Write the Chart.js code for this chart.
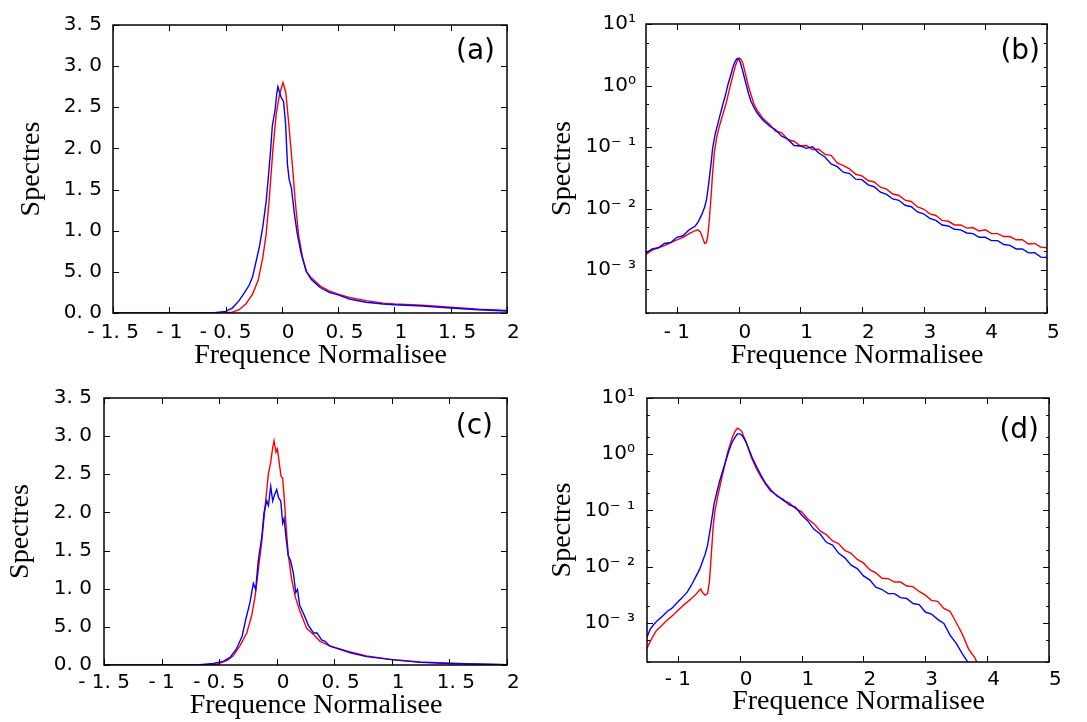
<!DOCTYPE html>
<html>
<head>
<meta charset="utf-8">
<title>Spectres</title>
<script src="https://cdn.jsdelivr.net/npm/chart.js@4.4.1/dist/chart.umd.min.js"></script>
<style>
  body { margin: 0; background: #fff; }
  #wrap { position: relative; width: 1087px; height: 722px; }
  canvas { position: absolute; }
  #pa { left: 0; top: 0; }
  #pb { left: 540px; top: 0; }
  #pc { left: 0; top: 374px; }
  #pd { left: 540px; top: 374px; }
</style>
</head>
<body>
<div id="wrap">
  <canvas id="pa" width="540" height="374"></canvas>
  <canvas id="pb" width="547" height="374"></canvas>
  <canvas id="pc" width="540" height="348"></canvas>
  <canvas id="pd" width="547" height="348"></canvas>
</div>
<script>
// Axis text
const xTitle = "   Frequence Normalisee";
const yTitle = "Spectres";

// Tick values and labels (linear panels)
const linXTicks = [-1.5, -1, -0.5, 0, 0.5, 1, 1.5, 2];
const linXLabels = ["- 1. 5", "- 1", "- 0. 5", "  0", "  0. 5", "  1", "  1. 5", "  2"];
const linYTicks = [0, 0.5, 1, 1.5, 2, 2.5, 3, 3.5];
const linYLabels = ["0. 0", "5. 0", "1. 0", "1. 5", "2. 0", "2. 5", "3. 0", "3. 5"];

// Tick values and labels (log panels)
const logXTicks = [-1, 0, 1, 2, 3, 4, 5];
const logXLabels = ["- 1", "  0", "  1", "  2", "  3", "  4", "  5"];
const logYTicks = [2e-4, 5e-4, 1e-3, 2e-3, 5e-3, 1e-2, 2e-2, 5e-2, 0.1, 0.2, 0.5, 1, 2, 5, 10];
const logYLabels = ["", "", "10⁻ ³", "", "", "10⁻ ²", "", "", "10⁻ ¹", "", "", "10⁰", "", "", "10¹"];

// (a) linear spectra
const aBlueX = [-1.5, -0.8, -0.6, -0.5, -0.44, -0.38, -0.33, -0.29, -0.26, -0.23, -0.2, -0.17, -0.14, -0.12, -0.1, -0.085, -0.06, -0.045, -0.035, -0.02, -0.006, 0.015, 0.033, 0.05, 0.065, 0.085, 0.11, 0.135, 0.17, 0.215, 0.26, 0.3, 0.34, 0.42, 0.5, 0.6, 0.75, 0.9, 1.0, 1.25, 1.5, 1.75, 2.0];
const aBlueY = [0, 0, 0.005, 0.02, 0.06, 0.15, 0.25, 0.34, 0.44, 0.62, 0.80, 1.04, 1.35, 1.65, 1.98, 2.27, 2.47, 2.67, 2.75, 2.68, 2.62, 2.57, 2.30, 1.80, 1.62, 1.52, 1.22, 0.98, 0.73, 0.51, 0.41, 0.36, 0.31, 0.25, 0.22, 0.17, 0.13, 0.11, 0.10, 0.085, 0.06, 0.04, 0.025];
const aRedX = [-1.5, -0.8, -0.5, -0.44, -0.38, -0.32, -0.26, -0.21, -0.17, -0.14, -0.11, -0.08, -0.05, -0.02, 0.01, 0.035, 0.06, 0.09, 0.12, 0.15, 0.185, 0.22, 0.26, 0.3, 0.35, 0.42, 0.5, 0.6, 0.75, 0.9, 1.0, 1.25, 1.5, 1.75, 2.0];
const aRedY = [0, 0, 0.003, 0.01, 0.04, 0.11, 0.23, 0.40, 0.67, 0.95, 1.42, 1.98, 2.42, 2.66, 2.80, 2.68, 2.32, 1.85, 1.34, 0.93, 0.67, 0.50, 0.43, 0.38, 0.32, 0.27, 0.23, 0.19, 0.15, 0.12, 0.11, 0.095, 0.07, 0.045, 0.03];

// (b) log spectra
const bBlueX = [-1.5, -1.4, -1.3, -1.2, -1.1, -1.0, -0.9, -0.8, -0.7, -0.65, -0.6, -0.55, -0.52, -0.5, -0.47, -0.44, -0.42, -0.38, -0.335, -0.3, -0.25, -0.2, -0.17, -0.12, -0.09, -0.06, -0.03, 0.0, 0.03, 0.06, 0.09, 0.12, 0.16, 0.2, 0.25, 0.3, 0.35, 0.4, 0.45,
  0.5, 0.6, 0.7, 0.8, 0.9, 1.0, 1.1, 1.2, 1.3, 1.4, 1.5, 1.6, 1.7, 1.8, 1.9, 2.0, 2.1, 2.2, 2.3, 2.4, 2.5, 2.6, 2.7, 2.8, 2.9, 3.0, 3.1, 3.2, 3.3, 3.4, 3.5, 3.6, 3.7, 3.8, 3.9, 4.0, 4.1, 4.2, 4.3, 4.4, 4.5, 4.6, 4.7, 4.8, 4.9, 5.0];
const bBlueY = [0.0019, 0.0022, 0.0023, 0.0027, 0.0028, 0.0034, 0.0036, 0.0045, 0.0052, 0.0062, 0.0078, 0.0105, 0.0138, 0.019, 0.033, 0.06, 0.095, 0.16, 0.24, 0.33, 0.51, 0.78, 1.05, 1.55, 2.0, 2.4, 2.7, 2.75, 2.35, 1.85, 1.4, 1.07, 0.75, 0.56, 0.44, 0.36, 0.31, 0.27, 0.245,
  0.219, 0.190, 0.150, 0.134, 0.106, 0.104, 0.095, 0.101, 0.080, 0.069, 0.053, 0.048, 0.039, 0.037, 0.030, 0.0295, 0.0242, 0.0226, 0.0184, 0.0170, 0.0143, 0.0136, 0.0113, 0.0107, 0.0088, 0.0082, 0.0069, 0.0064, 0.0054, 0.0052, 0.0046, 0.0045, 0.0040, 0.0039, 0.0034, 0.0034, 0.0030, 0.0030, 0.0026, 0.00252, 0.0022, 0.0022, 0.0019, 0.00192, 0.00162, 0.0016];
const bRedX = [-1.5, -1.4, -1.3, -1.2, -1.1, -1.0, -0.9, -0.8, -0.72, -0.66, -0.62, -0.58, -0.55, -0.52, -0.5, -0.48, -0.46, -0.44, -0.42, -0.39, -0.35, -0.31, -0.25, -0.2, -0.15, -0.1, -0.05, -0.02, 0.01, 0.04, 0.07, 0.1, 0.13, 0.16, 0.2, 0.25, 0.3, 0.35, 0.4, 0.45,
  0.5, 0.6, 0.7, 0.8, 0.9, 1.0, 1.1, 1.2, 1.3, 1.4, 1.5, 1.6, 1.7, 1.8, 1.9, 2.0, 2.1, 2.2, 2.3, 2.4, 2.5, 2.6, 2.7, 2.8, 2.9, 3.0, 3.1, 3.2, 3.3, 3.4, 3.5, 3.6, 3.7, 3.8, 3.9, 4.0, 4.1, 4.2, 4.3, 4.4, 4.5, 4.6, 4.7, 4.8, 4.9, 5.0];
const bRedY = [0.0018, 0.0021, 0.0023, 0.0025, 0.0028, 0.0031, 0.0034, 0.0039, 0.0043, 0.0045, 0.0042, 0.0033, 0.0027, 0.0028, 0.0035, 0.0055, 0.010, 0.019, 0.038, 0.085, 0.15, 0.22, 0.35, 0.52, 0.85, 1.35, 2.1, 2.55, 2.8, 2.65, 2.3, 1.75, 1.3, 0.98, 0.72, 0.5, 0.4, 0.34, 0.29, 0.26,
  0.234, 0.182, 0.170, 0.132, 0.124, 0.105, 0.106, 0.091, 0.092, 0.076, 0.073, 0.055, 0.050, 0.044, 0.036, 0.034, 0.0285, 0.027, 0.0222, 0.0206, 0.0172, 0.0163, 0.0137, 0.0130, 0.0106, 0.0098, 0.0082, 0.0077, 0.0064, 0.0062, 0.0054, 0.0054, 0.0048, 0.0049, 0.0043, 0.0045, 0.0039, 0.0039, 0.0035, 0.0035, 0.0031, 0.0031, 0.00265, 0.0027, 0.00235, 0.0023];

// (c) linear spectra
const cBlueX = [-1.5, -0.8, -0.67, -0.55, -0.46, -0.405, -0.35, -0.30, -0.267, -0.232, -0.203, -0.183, -0.16, -0.13, -0.11, -0.087, -0.072, -0.052, -0.035, -0.017, 0.0, 0.017, 0.035, 0.052, 0.064, 0.081, 0.10, 0.12, 0.145, 0.165, 0.18, 0.20, 0.24, 0.275, 0.32, 0.35, 0.39, 0.42, 0.46, 0.64, 0.78, 1.0, 1.25, 1.5, 2.0];
const cBlueY = [0, 0, 0.003, 0.02, 0.05, 0.10, 0.21, 0.38, 0.61, 0.82, 1.07, 0.99, 1.37, 1.67, 2.00, 2.15, 2.09, 2.34, 2.15, 2.24, 2.30, 2.19, 2.15, 1.86, 1.92, 1.67, 1.43, 1.37, 1.20, 0.95, 0.99, 0.78, 0.65, 0.52, 0.42, 0.42, 0.33, 0.31, 0.25, 0.16, 0.11, 0.07, 0.035, 0.02, 0.005];
const cRedX = [-1.5, -0.8, -0.67, -0.52, -0.43, -0.377, -0.32, -0.26, -0.217, -0.188, -0.16, -0.13, -0.10, -0.072, -0.052, -0.035, -0.023, -0.006, 0.006, 0.023, 0.038, 0.052, 0.064, 0.081, 0.10, 0.13, 0.16, 0.20, 0.26, 0.32, 0.377, 0.46, 0.5, 0.64, 0.78, 1.0, 1.25, 1.5, 1.74, 2.0];
const cRedY = [0, 0, 0.002, 0.01, 0.06, 0.12, 0.25, 0.42, 0.65, 0.90, 1.24, 1.62, 2.09, 2.51, 2.66, 2.85, 2.94, 2.79, 2.83, 2.64, 2.47, 2.45, 2.21, 1.83, 1.45, 1.12, 0.90, 0.71, 0.48, 0.40, 0.31, 0.25, 0.23, 0.17, 0.12, 0.07, 0.04, 0.025, 0.013, 0.005];

// (d) log spectra
const dBlueX = [-1.5, -1.45, -1.4, -1.33, -1.25, -1.17, -1.1, -1.01, -0.93, -0.85, -0.78, -0.71, -0.65, -0.6, -0.56, -0.52, -0.47, -0.415, -0.37, -0.33, -0.25, -0.17, -0.12, -0.09, -0.04, 0.0, 0.04, 0.1, 0.15, 0.2, 0.27, 0.34, 0.42,
  0.5, 0.6, 0.7, 0.8, 0.9, 1.0, 1.1, 1.2, 1.3, 1.4, 1.5, 1.6, 1.7, 1.8, 1.9, 2.0, 2.1, 2.2, 2.3, 2.4, 2.5, 2.6, 2.7, 2.8, 2.9, 3.0, 3.1, 3.2, 3.3, 3.4, 3.5, 3.6, 3.7];
const dBlueY = [5.5e-4, 7.6e-4, 9.0e-4, 1.1e-3, 1.3e-3, 1.6e-3, 1.8e-3, 2.3e-3, 2.8e-3, 3.5e-3, 4.7e-3, 6.6e-3, 8.9e-3, 1.26e-2, 1.66e-2, 2.4e-2, 5.2e-2, 0.132, 0.21, 0.32, 0.63, 1.2, 1.66, 1.9, 2.3, 2.3, 2.14, 1.66, 1.2, 0.87, 0.6, 0.43, 0.30,
  0.234, 0.180, 0.157, 0.125, 0.114, 0.083, 0.065, 0.046, 0.038, 0.027, 0.024, 0.0172, 0.0143, 0.0106, 0.0092, 0.0068, 0.0058, 0.0043, 0.0039, 0.0033, 0.0033, 0.0028, 0.0027, 0.0022, 0.0021, 0.00155, 0.00143, 0.00115, 0.00097, 0.00060, 0.00043, 0.00028, 0.00019];
const dRedX = [-1.5, -1.45, -1.4, -1.35, -1.28, -1.2, -1.1, -1.0, -0.9, -0.8, -0.72, -0.66, -0.63, -0.6, -0.56, -0.52, -0.49, -0.47, -0.45, -0.43, -0.4, -0.36, -0.32, -0.28, -0.24, -0.2, -0.16, -0.12, -0.08, -0.04, -0.01, 0.03, 0.07, 0.1, 0.15, 0.2, 0.27, 0.34, 0.42,
  0.5, 0.6, 0.7, 0.8, 0.9, 1.0, 1.1, 1.2, 1.3, 1.4, 1.5, 1.6, 1.7, 1.8, 1.9, 2.0, 2.1, 2.2, 2.3, 2.4, 2.5, 2.6, 2.7, 2.8, 2.9, 3.0, 3.1, 3.2, 3.3, 3.4, 3.5, 3.6, 3.7, 3.8, 3.86];
const dRedY = [3.5e-4, 4.6e-4, 5.8e-4, 7.2e-4, 8.5e-4, 1.05e-3, 1.3e-3, 1.65e-3, 2.1e-3, 2.6e-3, 3.1e-3, 3.7e-3, 4.0e-3, 3.4e-3, 3.1e-3, 3.3e-3, 5.5e-3, 1.12e-2, 2.4e-2, 5.2e-2, 0.1, 0.17, 0.27, 0.43, 0.65, 1.05, 1.45, 2.0, 2.5, 2.9, 2.8, 2.55, 2.0, 1.66, 1.15, 0.81, 0.55, 0.40, 0.29,
  0.219, 0.188, 0.150, 0.136, 0.108, 0.094, 0.070, 0.058, 0.043, 0.037, 0.0285, 0.0255, 0.0193, 0.0172, 0.0134, 0.0116, 0.0088, 0.0077, 0.0062, 0.0061, 0.0053, 0.0053, 0.0045, 0.0044, 0.0036, 0.0031, 0.0025, 0.0024, 0.0018, 0.0016, 0.00101, 0.00062, 0.00034, 0.00024, 0.00017];

const BLUE = "#0000ff";
const RED = "#ff0000";

function toPoints(xs, ys) {
  return xs.map((x, i) => ({ x: x, y: ys[i] }));
}

// Frame, inward ticks on all four sides, and the panel tag
const framePlugin = {
  id: "frame",
  afterDatasetsDraw(chart, args, opts) {
    const { ctx, chartArea: a, scales } = chart;
    const xs = scales.x;
    const ys = scales.y;
    ctx.save();
    ctx.strokeStyle = "#000";
    ctx.lineWidth = 1;
    ctx.beginPath();
    xs.ticks.forEach((t) => {
      const px = Math.round(xs.getPixelForValue(t.value)) + 0.5;
      ctx.moveTo(px, a.bottom);
      ctx.lineTo(px, a.bottom - 6);
      ctx.moveTo(px, a.top);
      ctx.lineTo(px, a.top + 6);
    });
    ys.ticks.forEach((t) => {
      const py = Math.round(ys.getPixelForValue(t.value)) + 0.5;
      const len = t.label ? 6 : 3;
      ctx.moveTo(a.left, py);
      ctx.lineTo(a.left + len, py);
      ctx.moveTo(a.right, py);
      ctx.lineTo(a.right - len, py);
    });
    ctx.stroke();
    ctx.lineWidth = 1.5;
    ctx.strokeRect(a.left, a.top, a.right - a.left, a.bottom - a.top);

    ctx.fillStyle = "#000";
    ctx.font = '28px "DejaVu Sans"';
    ctx.textAlign = "right";
    ctx.textBaseline = "alphabetic";
    ctx.fillText(opts.tag, a.right - opts.dx, a.top + opts.dy);
    ctx.restore();
  },
};

const panels = [
  { id: "pa", tag: "(a)", log: false, blue: [aBlueX, aBlueY], red: [aRedX, aRedY],
    pad: { left: 18, top: 25, right: 33, bottom: 4 }, yW: 95, xH: 57, yPad: 11, xPad: 8, dx: 12, dy: 34 },
  { id: "pb", tag: "(b)", log: true, blue: [bBlueX, bBlueY], red: [bRedX, bRedY],
    pad: { left: 9, top: 24, right: 40, bottom: 4 }, yW: 97, xH: 57, yPad: 10, xPad: 8, dx: 7, dy: 35 },
  { id: "pc", tag: "(c)", log: false, blue: [cBlueX, cBlueY], red: [cRedX, cRedY],
    pad: { left: 7, top: 15, right: 33, bottom: 2 }, yW: 97, xH: 55, yPad: 12, xPad: 6, dx: 14, dy: 36 },
  { id: "pd", tag: "(d)", log: true, blue: [dBlueX, dBlueY], red: [dRedX, dRedY],
    pad: { left: 9, top: 11, right: 38, bottom: 6 }, yW: 98, xH: 54, yPad: 12, xPad: 6, dx: 10, dy: 40 },
];

Chart.defaults.font.family = '"DejaVu Sans", sans-serif';
Chart.defaults.color = "#000";

function makeChart(p) {
  const xTicks = p.log ? logXTicks : linXTicks;
  const xLabels = p.log ? logXLabels : linXLabels;
  const yTicks = p.log ? logYTicks : linYTicks;
  const yLabels = p.log ? logYLabels : linYLabels;
  const line = (pair, color) => ({
    data: toPoints(pair[0], pair[1]),
    borderColor: color,
    borderWidth: 1.4,
    pointRadius: 0,
    tension: 0,
    fill: false,
  });

  return new Chart(document.getElementById(p.id), {
    type: "line",
    data: { datasets: [line(p.blue, BLUE), line(p.red, RED)] },
    options: {
      responsive: false,
      animation: false,
      devicePixelRatio: 1,
      layout: { padding: p.pad },
      plugins: {
        legend: { display: false },
        tooltip: { enabled: false },
        frame: { tag: p.tag, dx: p.dx, dy: p.dy },
      },
      scales: {
        x: {
          type: "linear",
          min: -1.5,
          max: p.log ? 5 : 2,
          afterBuildTicks: (s) => { s.ticks = xTicks.map((v) => ({ value: v })); },
          afterFit: (s) => { s.height = p.xH; },
          grid: { display: false, drawTicks: false },
          border: { display: false },
          ticks: {
            autoSkip: false,
            maxRotation: 0,
            padding: p.xPad,
            color: "#000",
            font: { size: 20 },
            callback: (v, i) => xLabels[i],
          },
          title: {
            display: true,
            text: xTitle,
            color: "#000",
            padding: 0,
            font: { family: '"Liberation Serif", serif', size: 28, lineHeight: 1 },
          },
        },
        y: {
          type: p.log ? "logarithmic" : "linear",
          min: p.log ? 2e-4 : 0,
          max: p.log ? 10 : 3.5,
          afterBuildTicks: (s) => { s.ticks = yTicks.map((v) => ({ value: v })); },
          afterFit: (s) => { s.width = p.yW; },
          grid: { display: false, drawTicks: false },
          border: { display: false },
          ticks: {
            autoSkip: false,
            padding: p.yPad,
            color: "#000",
            font: { size: 20 },
            callback: (v, i) => yLabels[i],
          },
          title: {
            display: true,
            text: yTitle,
            color: "#000",
            padding: 0,
            font: { family: '"Liberation Serif", serif', size: 28, lineHeight: 1 },
          },
        },
      },
    },
    plugins: [framePlugin],
  });
}

panels.forEach(makeChart);
</script>
</body>
</html>
